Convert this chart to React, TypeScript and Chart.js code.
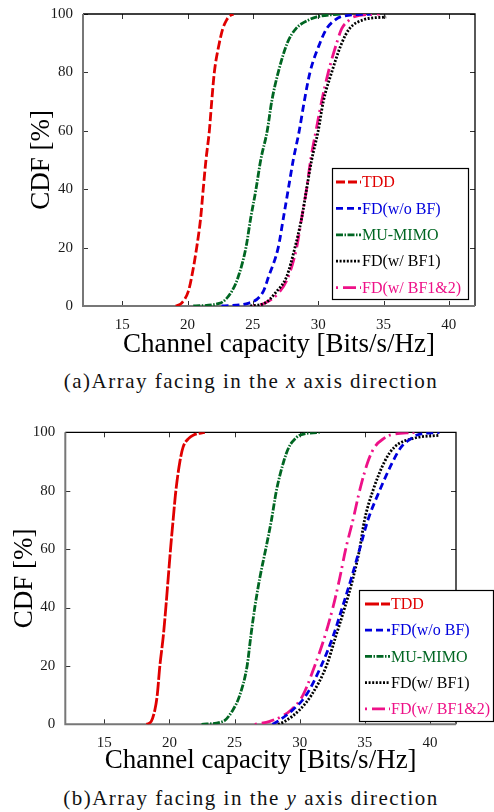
import React, { useEffect, useRef } from 'react';
import { Chart, registerables } from 'chart.js';

Chart.register(...registerables);

// ---------- data ----------
const cdfLevels = [0, 1, 5, 10, 20, 30, 40, 50, 60, 70, 80, 90, 95, 98, 99, 100];
const xTickValues = [15, 20, 25, 30, 35, 40];
const yTickValues = [0, 20, 40, 60, 80, 100];
const seriesLabels = ['TDD', 'FD(w/o BF)', 'MU-MIMO', 'FD(w/ BF1)', 'FD(w/ BF1&2)'];

// (a) array facing x axis: channel capacity at each CDF level
const tddA = [19.1, 19.55, 20.06, 20.32, 20.7, 21.0, 21.2, 21.41, 21.67, 21.85, 22.05, 22.43, 22.7, 23.0, 23.15, 23.5];
const fdNoBfA = [22.6, 24.7, 25.8, 26.2, 26.94, 27.33, 27.71, 28.09, 28.55, 28.93, 29.37, 30.13, 30.65, 31.3, 31.7, 34.0];
const muMimoA = [20.44, 22.5, 23.38, 23.88, 24.47, 24.83, 25.24, 25.6, 26.1, 26.44, 26.94, 27.63, 28.3, 29.3, 29.9, 31.7];
const fdBf1A = [24.8, 25.93, 26.82, 27.58, 28.22, 28.73, 29.11, 29.5, 30.0, 30.39, 31.03, 31.8, 32.4, 33.45, 35.2, null];
const fdBf12A = [25.03, 25.93, 27.07, 27.71, 28.35, 28.73, 29.11, 29.42, 29.83, 30.26, 30.77, 31.41, 31.8, 32.4, 32.7, 34.7];

// (b) array facing y axis
const tddB = [18.24, 18.6, 18.88, 19.06, 19.26, 19.52, 19.72, 19.9, 20.08, 20.28, 20.49, 20.8, 21.05, 21.5, 21.82, 22.71];
const fdNoBfB = [27.9, 28.3, 29.48, 30.5, 31.65, 32.55, 33.27, 33.96, 34.6, 35.24, 36.13, 37.15, 37.8, 38.6, 38.95, 40.73];
const muMimoB = [22.46, 24.12, 24.88, 25.4, 25.96, 26.24, 26.55, 26.93, 27.39, 27.83, 28.21, 28.77, 29.18, 29.7, 30.0, 31.53];
const fdBf1B = [28.33, 28.85, 30.0, 30.9, 32.05, 32.76, 33.46, 34.09, 34.6, 34.98, 35.62, 36.52, 37.29, 38.8, 40.73, null];
const fdBf12B = [26.55, 27.7, 29.36, 30.25, 31.15, 31.92, 32.55, 33.07, 33.53, 34.09, 34.6, 35.24, 35.76, 36.5, 36.9, 38.82];

// ---------- styles ----------
const SERIF = "'Liberation Serif', 'Times New Roman', serif";
const seriesColors = ['#e00000', '#0000dd', '#006622', '#000000', '#ee1188'];
const dashesA = [[9, 3], [7, 4], [7, 1.5, 1.5, 1.5], [2, 1.6], [2, 5, 13, 4]];
const dashesB = [[14, 2], [7, 4], [7, 1.5, 1.5, 1.5], [2, 1.6], [2, 5, 13, 4]];

type LegendCfg = { x: number; y: number; w: number; h: number; row0: number; rowStep: number; lx0: number; lx1: number; tx: number };
type PanelCfg = {
  series: (number | null)[][];
  dashes: number[][];
  height: number;
  padTop: number;
  padRight: number;
  yWidth: number;
  xHeight: number;
  yTitlePad: number;
  xTitlePad: number;
  legend: LegendCfg;
};

const framePlugin = {
  id: 'frameTicks',
  beforeDatasetsDraw(chart: any) {
    const { ctx, chartArea: a, scales } = chart;
    const xs = scales.x;
    const ys = scales.y;
    const tl = 5;
    ctx.save();
    ctx.strokeStyle = '#333';
    ctx.lineWidth = 1;
    ctx.beginPath();
    xs.ticks.forEach((t: any) => {
      const px = Math.round(xs.getPixelForValue(t.value)) + 0.5;
      ctx.moveTo(px, a.bottom);
      ctx.lineTo(px, a.bottom - tl);
      ctx.moveTo(px, a.top);
      ctx.lineTo(px, a.top + tl);
    });
    ys.ticks.forEach((t: any) => {
      const py = Math.round(ys.getPixelForValue(t.value)) + 0.5;
      ctx.moveTo(a.left, py);
      ctx.lineTo(a.left + tl, py);
      ctx.moveTo(a.right, py);
      ctx.lineTo(a.right - tl, py);
    });
    ctx.stroke();
    ctx.strokeStyle = '#000';
    ctx.lineWidth = 1.3;
    ctx.beginPath();
    ctx.moveTo(a.left, a.top);
    ctx.lineTo(a.right, a.top);
    ctx.lineTo(a.right, a.bottom);
    ctx.stroke();
    ctx.strokeStyle = '#777';
    ctx.lineWidth = 2;
    ctx.beginPath();
    ctx.moveTo(a.left, a.top);
    ctx.lineTo(a.left, a.bottom);
    ctx.lineTo(a.right, a.bottom);
    ctx.stroke();
    ctx.restore();
  },
};

const boxLegendPlugin = {
  id: 'boxLegend',
  afterDraw(chart: any, _args: any, opts: any) {
    const L: LegendCfg = opts.cfg;
    if (!L) return;
    const { ctx } = chart;
    ctx.save();
    ctx.fillStyle = '#fff';
    ctx.fillRect(L.x, L.y, L.w, L.h);
    ctx.strokeStyle = '#000';
    ctx.lineWidth = 1.2;
    ctx.strokeRect(L.x, L.y, L.w, L.h);
    chart.data.datasets.forEach((ds: any, i: number) => {
      const y = L.row0 + i * L.rowStep;
      ctx.strokeStyle = ds.borderColor;
      ctx.lineWidth = ds.borderWidth;
      ctx.setLineDash(ds.borderDash || []);
      ctx.beginPath();
      ctx.moveTo(L.lx0, y);
      ctx.lineTo(L.lx1, y);
      ctx.stroke();
      ctx.setLineDash([]);
      ctx.fillStyle = ds.borderColor;
      ctx.font = `16px ${SERIF}`;
      ctx.textBaseline = 'middle';
      ctx.textAlign = 'left';
      ctx.fillText(ds.label, L.tx, y + 1);
    });
    ctx.restore();
  },
};

function CdfPanel({ cfg }: { cfg: PanelCfg }) {
  const ref = useRef<HTMLCanvasElement | null>(null);
  useEffect(() => {
    if (!ref.current) return;
    const datasets = cfg.series.map((vals, i) => ({
      label: seriesLabels[i],
      data: cdfLevels
        .map((c, k) => ({ x: vals[k], y: c }))
        .filter((p) => p.x !== null && p.x !== undefined),
      showLine: true,
      borderColor: seriesColors[i],
      backgroundColor: seriesColors[i],
      borderWidth: 2.8,
      borderDash: cfg.dashes[i],
      borderCapStyle: 'butt',
      pointRadius: 0,
      fill: false,
      cubicInterpolationMode: 'monotone',
    }));
    const chart = new Chart(ref.current, {
      type: 'scatter',
      data: { datasets } as any,
      options: {
        animation: false,
        responsive: false,
        layout: { padding: { top: cfg.padTop, right: cfg.padRight, left: 0, bottom: 0 } },
        plugins: {
          legend: { display: false },
          tooltip: { enabled: false },
          boxLegend: { cfg: cfg.legend },
        } as any,
        scales: {
          x: {
            type: 'linear',
            min: 12,
            max: 42,
            afterBuildTicks: (s: any) => {
              s.ticks = xTickValues.map((v) => ({ value: v }));
            },
            afterFit: (s: any) => {
              s.height = cfg.xHeight;
            },
            grid: { display: false, drawTicks: false },
            border: { display: false },
            ticks: { font: { family: SERIF, size: 15 }, color: '#1a1a1a', padding: 10, maxRotation: 0 },
            title: {
              display: true,
              text: 'Channel capacity [Bits/s/Hz]',
              font: { family: SERIF, size: 27 },
              color: '#000',
              padding: { top: 0, bottom: cfg.xTitlePad },
            },
          },
          y: {
            type: 'linear',
            min: 0,
            max: 100,
            afterBuildTicks: (s: any) => {
              s.ticks = yTickValues.map((v) => ({ value: v }));
            },
            afterFit: (s: any) => {
              s.width = cfg.yWidth;
            },
            grid: { display: false, drawTicks: false },
            border: { display: false },
            ticks: { font: { family: SERIF, size: 15 }, color: '#1a1a1a', padding: 10 },
            title: {
              display: true,
              text: 'CDF [%]',
              font: { family: SERIF, size: 27 },
              color: '#000',
              padding: { top: cfg.yTitlePad, bottom: 0 },
            },
          },
        },
      },
      plugins: [framePlugin, boxLegendPlugin],
    } as any);
    return () => chart.destroy();
  }, [cfg]);
  return <canvas ref={ref} width={494} height={cfg.height} style={{ display: 'block', width: 494, height: cfg.height }} />;
}

// panel A canvas starts 20px above the page top
const panelA: PanelCfg = {
  series: [tddA, fdNoBfA, muMimoA, fdBf1A, fdBf12A],
  dashes: dashesA,
  height: 382,
  padTop: 34,
  padRight: 19,
  yWidth: 83,
  xHeight: 56,
  yTitlePad: 26,
  xTitlePad: 1,
  legend: { x: 332.5, y: 188.5, w: 136, h: 131, row0: 202, rowStep: 26.4, lx0: 336, lx1: 361, tx: 362 },
};

const panelB: PanelCfg = {
  series: [tddB, fdNoBfB, muMimoB, fdBf1B, fdBf12B],
  dashes: dashesB,
  height: 378,
  padTop: 32.3,
  padRight: 38,
  yWidth: 65.3,
  xHeight: 53.7,
  yTitlePad: 8.5,
  xTitlePad: 1,
  legend: { x: 359.5, y: 190.5, w: 134, h: 131, row0: 204, rowStep: 26.2, lx0: 365, lx1: 390, tx: 391 },
};

const captionStyle: React.CSSProperties = {
  position: 'absolute',
  left: 0,
  width: 502,
  textAlign: 'center',
  fontFamily: SERIF,
  fontSize: 21,
  letterSpacing: 1.5,
  color: '#111',
  lineHeight: '24px',
  whiteSpace: 'nowrap',
};

export default function App() {
  return (
    <div style={{ position: 'absolute', left: 0, top: 0, width: 494, height: 812, background: '#fff', overflow: 'hidden' }}>
      <div style={{ position: 'absolute', left: 0, top: -20 }}>
        <CdfPanel cfg={panelA} />
      </div>
      <div style={{ ...captionStyle, top: 369 }}>
        (a)Array facing in the <i>x</i> axis direction
      </div>
      <div style={{ position: 'absolute', left: 0, top: 400 }}>
        <CdfPanel cfg={panelB} />
      </div>
      <div style={{ ...captionStyle, top: 786 }}>
        (b)Array facing in the <i>y</i> axis direction
      </div>
    </div>
  );
}
